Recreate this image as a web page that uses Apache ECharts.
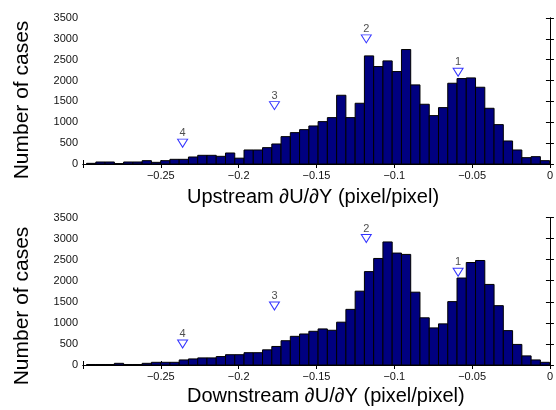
<!DOCTYPE html>
<html>
<head>
<meta charset="utf-8">
<script src="https://cdn.jsdelivr.net/npm/echarts@6/dist/echarts.min.js"></script>
<style>
  html, body { margin: 0; padding: 0; background: #fff; }
  #chart { width: 556px; height: 410px; }
</style>
</head>
<body>
<div id="chart"></div>
<script>
// histogram bins: 50 bins, left edge of first bin and bin width
const binStart = -0.2977;
const binWidth = 0.00595;

const upstreamCounts = [
  16, 48, 48, 10, 48, 48, 80, 40, 80, 112, 112, 168, 208, 208, 184, 264, 140,
  336, 336, 392, 480, 656, 752, 824, 912, 1016, 1112, 1648, 1112, 1456, 2592, 2336, 2472, 2216,
  2744, 1896, 1432, 1160, 1352, 1936, 2048, 2064, 1840, 1336, 944, 552, 336, 152, 176, 80
];
const downstreamCounts = [
  12, 12, 12, 40, 12, 12, 40, 64, 64, 64, 120, 144, 168, 168, 200, 244, 244,
  292, 292, 360, 440, 576, 680, 736, 800, 856, 824, 1016, 1320, 1752, 2216, 2528, 2920, 2656,
  2624, 1728, 1120, 880, 976, 1504, 2064, 2432, 2480, 1912, 1408, 816, 488, 216, 120, 64
];

// numbered triangle markers (same in both panels)
const markerX = [-0.059, -0.118, -0.177, -0.236];
const markerY = [2200, 3000, 1400, 500];
const markerLabels = ['1', '2', '3', '4'];

const xTitles = ['Upstream \u2202U/\u2202Y (pixel/pixel)', 'Downstream \u2202U/\u2202Y (pixel/pixel)'];
const yTitle = 'Number of cases';

const font = 'Liberation Sans, Arial, Helvetica, sans-serif';

function toBins(counts) {
  return counts.map((c, i) => [binStart + i * binWidth, binStart + (i + 1) * binWidth, c]);
}

const chart = echarts.init(document.getElementById('chart'), null, { renderer: 'canvas' });

const grids = [
  { left: 83, top: 18, width: 472, height: 146 },
  { left: 83, top: 217.5, width: 472, height: 147.5 }
];

const xAxes = [];
const yAxes = [];
grids.forEach((g, gi) => {
  const base = {
    gridIndex: gi,
    axisLine: { lineStyle: { color: '#000', width: 1 } },
    axisTick: { inside: true, length: 4, lineStyle: { color: '#000' } },
    splitLine: { show: false }
  };
  xAxes.push(Object.assign({}, base, {
    type: 'value', position: 'bottom', min: -0.3, max: 0, interval: 0.05,
    axisLabel: {
      color: '#111', fontSize: 11, fontFamily: font, margin: 6,
      formatter: v => {
        if (v < -0.299) return '';
        const r = Math.round(v * 100) / 100;
        return r === 0 ? '0' : String(r).replace('-', '\u2212');
      }
    }
  }));
  xAxes.push(Object.assign({}, base, {
    type: 'value', position: 'top', min: -0.3, max: 0, interval: 0.05,
    axisLabel: { show: false }
  }));
  yAxes.push(Object.assign({}, base, {
    type: 'value', position: 'left', min: 0, max: 3500, interval: 500,
    axisLabel: { color: '#111', fontSize: 11, fontFamily: font, margin: 5, formatter: v => String(v) }
  }));
  yAxes.push(Object.assign({}, base, {
    type: 'value', position: 'right', min: 0, max: 3500, interval: 500,
    axisLabel: { show: false }
  }));
});

function barSeries(counts, gi) {
  return {
    type: 'custom',
    xAxisIndex: gi * 2,
    yAxisIndex: gi * 2,
    data: toBins(counts),
    encode: { x: [0, 1], y: 2 },
    renderItem: (params, api) => {
      const p0 = api.coord([api.value(0), api.value(2)]);
      const p1 = api.coord([api.value(1), 0]);
      return {
        type: 'rect',
        shape: { x: p0[0], y: p0[1], width: p1[0] - p0[0], height: p1[1] - p0[1] },
        style: { fill: '#000080', stroke: '#000', lineWidth: 1 }
      };
    },
    z: 2
  };
}

function markerSeries(gi) {
  return {
    type: 'scatter',
    xAxisIndex: gi * 2,
    yAxisIndex: gi * 2,
    data: markerX.map((x, i) => [x, markerY[i], markerLabels[i]]),
    symbol: 'path://M0,0L10,0L5,8Z',
    symbolSize: [10, 8],
    itemStyle: { color: '#fff', borderColor: '#0000ff', borderWidth: 1 },
    label: {
      show: true, position: 'top', distance: 0,
      formatter: p => p.data[2],
      color: '#222', fontSize: 11, fontFamily: font
    },
    emphasis: { disabled: true },
    z: 5
  };
}

const graphics = [
  { type: 'text', x: 22, y: 100, rotation: Math.PI / 2,
    style: { text: yTitle, fontSize: 21, fontFamily: font, fill: '#000', textAlign: 'center', textVerticalAlign: 'middle' } },
  { type: 'text', x: 22, y: 306, rotation: Math.PI / 2,
    style: { text: yTitle, fontSize: 21, fontFamily: font, fill: '#000', textAlign: 'center', textVerticalAlign: 'middle' } },
  { type: 'text', x: 187, y: 197,
    style: { text: xTitles[0], fontSize: 20, fontFamily: font, fill: '#000', textAlign: 'left', textVerticalAlign: 'middle' } },
  { type: 'text', x: 187, y: 396,
    style: { text: xTitles[1], fontSize: 20, fontFamily: font, fill: '#000', textAlign: 'left', textVerticalAlign: 'middle' } }
];

chart.setOption({
  backgroundColor: '#fff',
  animation: false,
  grid: grids,
  xAxis: xAxes,
  yAxis: yAxes,
  graphic: graphics,
  series: [
    barSeries(upstreamCounts, 0),
    markerSeries(0),
    barSeries(downstreamCounts, 1),
    markerSeries(1)
  ]
});
</script>
</body>
</html>
